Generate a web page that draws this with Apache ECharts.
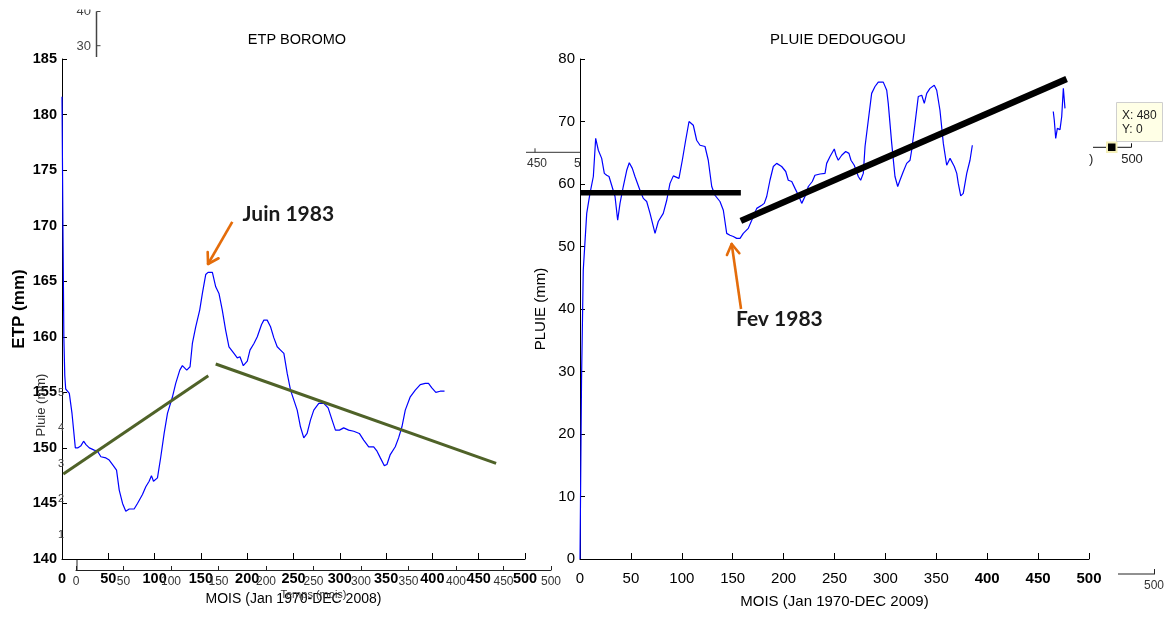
<!DOCTYPE html>
<html>
<head>
<meta charset="utf-8">
<script src="https://cdn.jsdelivr.net/npm/echarts@6/dist/echarts.min.js"></script>
<style>
  html, body { margin: 0; padding: 0; background: #fff; }
  #chart { width: 1173px; height: 617px; }
</style>
</head>
<body>
<div id="chart"></div>
<script>
// ---- data -------------------------------------------------------------
// ETP Boromo, smoothed monthly series (month index, mm)
const etpSeries = [
  [0,181.6],[1,170],[2,160],[3,156.5],[4,155.3],[7.9,154.9],[10.8,153.1],[12.2,153.0],[14.4,150.0],[16.9,150.0],
  [20.5,150.2],[23.3,150.6],[25.9,150.3],[29.5,150.0],[34.8,149.8],[38.4,149.7],[42.0,149.2],[47.4,149.1],[51.0,148.9],[54.6,148.5],
  [58.9,148.0],[61.8,146.2],[65.4,145.0],[68.9,144.3],[72.6,144.5],[77.9,144.5],[81.5,145.0],[86.9,145.8],[90.5,146.5],[94.1,147.0],
  [96.6,147.5],[98.8,147.0],[103.1,147.3],[106.7,149.2],[110.3,151.3],[113.9,153.1],[119.3,154.6],[122.8,155.8],[127.2,157.0],[130.0,157.4],
  [134.7,157.0],[138.3,157.3],[140.8,159.4],[144.4,160.9],[148.7,162.4],[151.6,163.9],[155.2,165.6],[157.7,165.8],[162.4,165.8],[166.0,164.5],
  [169.5,163.9],[173.1,162.4],[176.7,160.6],[180.3,159.1],[185.7,158.5],[189.3,158.1],[192.2,158.2],[195.8,157.4],[200.1,157.8],[203.0,158.8],
  [207.3,159.4],[210.9,160.0],[215.5,161.1],[218.0,161.5],[221.6,161.5],[225.2,160.9],[228.8,159.9],[232.4,159.1],[236.0,158.8],[239.6,158.5],
  [243.2,156.7],[246.8,155.2],[250.4,154.3],[254.0,153.4],[257.5,151.9],[261.1,150.9],[264.7,151.3],[268.3,152.5],[271.9,153.4],[277.3,154.0],
  [282.7,154.0],[287.4,153.6],[291.7,152.5],[295.3,151.6],[299.6,151.6],[304.2,151.8],[309.6,151.6],[315.0,151.5],[321.1,151.3],[325.8,150.7],
  [331.2,150.1],[336.6,150.1],[340.2,149.7],[343.8,149.1],[348.1,148.4],[350.9,148.5],[354.5,149.4],[359.9,150.1],[363.5,150.9],[367.1,151.9],
  [370.7,153.4],[376.1,154.6],[381.5,155.2],[386.9,155.7],[392.2,155.8],[395.8,155.8],[399.4,155.4],[403.7,155.0],[408.4,155.1],[413.1,155.1]
];
// ETP trend segments before / after the break
const etpTrendBefore = [[1.4,147.65],[158.0,156.5]];
const etpTrendAfter  = [[166.0,157.55],[468.8,148.6]];

// Pluie Dedougou, smoothed monthly series (month index, mm); '-' marks a gap
const pluieSeries = [
  [0,0],[1.5,28.6],[3.2,46.2],[6.6,55.3],[9.8,58.5],[13.1,61.2],[15.4,67.3],[18.0,65.4],[21.3,64.1],[23.9,61.7],
  [26.2,61.4],[28.5,61.2],[31.1,59.8],[34.4,58.0],[37.0,54.2],[39.3,56.9],[42.5,59.6],[45.9,62.2],[48.4,63.4],[51.4,62.5],
  [54.0,61.2],[58.9,59.0],[62.2,57.7],[65.5,57.2],[68.8,55.3],[73.7,52.1],[76.9,54.0],[81.8,55.3],[85.2,57.4],[88.4,60.1],
  [91.7,61.3],[97.2,60.9],[100.5,63.8],[103.8,67.0],[107.1,70.0],[111.3,69.4],[114.6,67.0],[117.9,66.2],[122.8,66.0],[126.0,63.8],
  [129.4,59.6],[132.6,58.2],[137.5,57.2],[140.8,55.8],[144.1,52.1],[147.3,51.8],[150.6,51.6],[153.9,51.3],[157.2,51.3],[160.4,52.1],
  [165.3,52.9],[168.7,54.2],[173.6,56.1],[178.5,56.6],[181.0,56.9],[183.4,58.0],[186.6,60.6],[189.9,62.8],[193.2,63.3],[198.1,62.8],
  [202.1,62.0],[204.6,60.6],[208.0,60.4],[211.2,59.3],[215.1,58.0],[217.8,56.9],[221.0,58.0],[224.3,59.6],[228.2,60.4],[230.8,61.4],
  [235.8,61.6],[240.7,61.7],[242.3,63.3],[245.6,64.4],[249.8,65.6],[251.5,64.6],[253.7,63.8],[257.1,64.6],[261.0,65.2],[264.2,64.9],
  [266.2,63.8],[269.4,63.0],[273.4,61.2],[275.7,60.6],[278.3,61.7],[280.0,66.0],[283.2,70.2],[286.5,74.5],[289.8,75.6],[293.0,76.3],
  [297.9,76.3],[301.3,75.0],[302.8,72.9],[306.2,66.5],[309.4,61.2],[312.1,59.6],[314.3,60.6],[317.6,62.0],[320.9,63.3],[324.2,63.8],
  [325.8,65.4],[329.1,69.7],[332.3,74.0],[335.7,74.2],[338.2,72.9],[340.6,74.5],[343.8,75.3],[348.0,75.8],[350.4,75.0],[353.6,71.8],
  [356.9,66.5],[360.2,63.0],[363.5,64.1],[367.7,62.8],[370.1,61.7],[371.6,60.1],[374.0,58.1],[376.5,58.5],[379.9,61.7],[383.1,63.8],
  [385.4,66.2],[420,'-'],
  [464.9,71.6],[465.9,70.2],[467.3,67.3],[468.9,68.9],[471.5,68.7],[473.2,70.8],[474.8,75.3],[476.4,72.1]
];
// Pluie trend segments before / after the break
const pluieTrendBefore = [[0,58.6],[158,58.6]];
const pluieTrendAfter  = [[158,54.1],[478,76.8]];

// axis ranges: [min, max, step]
const monthRange = [0, 500, 50];
const etpRange   = [140, 185, 5];
const pluieRange = [0, 80, 10];
const otherRange = [0, 5, 1];

// break annotations: label anchor, arrow tail and arrow tip (data units)
const breakNotes = [
  { grid: 0, text: 'Juin 1983', label: [195, 171.0], tail: [183.9, 170.35], tip: [157.7, 166.55] },
  { grid: 1, text: 'Fev 1983',  label: [153.2, 38.4], tail: [158.2, 40.0],  tip: [149.0, 50.4] }
];

// ---- styling ----------------------------------------------------------
const SANS = "'Liberation Sans', Arial, sans-serif";
const ORANGE = '#e46c0a';

function baseAxis(extra) {
  return Object.assign({
    type: 'value',
    axisLine: { show: true, lineStyle: { color: '#000', width: 1 } },
    axisTick: { show: true, inside: true, length: 5, lineStyle: { color: '#000', width: 1 } },
    splitLine: { show: false },
    axisLabel: { color: '#000', fontFamily: SANS, fontSize: 14 }
  }, extra);
}

const chart = echarts.init(document.getElementById('chart'), null, { renderer: 'canvas' });

const option = {
  animation: false,
  backgroundColor: '#fff',
  title: [
    { text: 'ETP BOROMO', left: 292, top: 27, textAlign: 'center',
      textStyle: { fontFamily: SANS, fontWeight: 'normal', fontSize: 14.5, color: '#000' } },
    { text: 'PLUIE DEDOUGOU', left: 833, top: 27, textAlign: 'center',
      textStyle: { fontFamily: SANS, fontWeight: 'normal', fontSize: 15, color: '#000' } }
  ],
  grid: [
    { left: 62, top: 59, width: 463, height: 500 },
    { left: 580, top: 59, width: 509, height: 500 },
    { left: 76, top: 393, width: 475, height: 177 }
  ],
  xAxis: [
    baseAxis({
      gridIndex: 0, min: monthRange[0], max: monthRange[1], interval: monthRange[2],
      name: 'MOIS (Jan 1970-DEC 2008)', nameLocation: 'middle', nameGap: 33,
      nameTextStyle: { fontFamily: SANS, fontSize: 14, color: '#000' },
      axisTick: { show: true, inside: true, length: 6, lineStyle: { color: '#000' } },
      axisLabel: { color: '#000', fontFamily: SANS, fontWeight: 'bold', fontSize: 14.5, margin: 12 }
    }),
    baseAxis({
      gridIndex: 1, min: monthRange[0], max: monthRange[1], interval: monthRange[2],
      name: 'MOIS (Jan 1970-DEC 2009)', nameLocation: 'middle', nameGap: 35,
      nameTextStyle: { fontFamily: SANS, fontSize: 15, color: '#000' },
      axisTick: { show: true, inside: true, length: 6, lineStyle: { color: '#000' } },
      axisLabel: {
        color: '#000', fontFamily: SANS, fontSize: 15, margin: 12,
        formatter: v => (v >= 400 ? '{b|' + v + '}' : '' + v),
        rich: { b: { fontFamily: SANS, fontWeight: 'bold', fontSize: 15, color: '#000' } }
      }
    }),
    baseAxis({
      gridIndex: 2, min: monthRange[0], max: monthRange[1], interval: monthRange[2], z: 0,
      name: 'Temps (mois)', nameLocation: 'middle', nameGap: 19,
      nameTextStyle: { fontFamily: SANS, fontSize: 11, color: '#333' },
      axisLine: { show: true, lineStyle: { color: '#222', width: 1 } },
      axisTick: { show: true, inside: true, length: 4, lineStyle: { color: '#222' } },
      axisLabel: { color: '#333', fontFamily: SANS, fontSize: 12, margin: 6 }
    })
  ],
  yAxis: [
    baseAxis({
      gridIndex: 0, min: etpRange[0], max: etpRange[1], interval: etpRange[2],
      name: 'ETP (mm)', nameLocation: 'middle', nameGap: 34,
      nameTextStyle: { fontFamily: SANS, fontWeight: 'bold', fontSize: 17, color: '#000' },
      axisLabel: { color: '#000', fontFamily: SANS, fontWeight: 'bold', fontSize: 14.5, margin: 5 }
    }),
    baseAxis({
      gridIndex: 1, min: pluieRange[0], max: pluieRange[1], interval: pluieRange[2],
      name: 'PLUIE (mm)', nameLocation: 'middle', nameGap: 32,
      nameTextStyle: { fontFamily: SANS, fontSize: 15, color: '#000' },
      axisLabel: { color: '#000', fontFamily: SANS, fontSize: 15, margin: 5 }
    }),
    baseAxis({
      gridIndex: 2, min: otherRange[0], max: otherRange[1], interval: otherRange[2], z: 0,
      axisLine: { show: false }, axisTick: { show: false },
      axisLabel: { color: '#444', fontFamily: SANS, fontSize: 11, margin: 12,
        formatter: v => (v === 0 ? '' : '' + v) }
    })
  ],
  series: [
    { type: 'line', xAxisIndex: 0, yAxisIndex: 0, data: etpSeries, showSymbol: false, symbol: 'none',
      lineStyle: { color: '#0000ff', width: 1.2 }, z: 3 },
    { type: 'line', xAxisIndex: 0, yAxisIndex: 0, data: etpTrendBefore, symbol: 'none',
      lineStyle: { color: '#4f6228', width: 3 }, z: 4 },
    { type: 'line', xAxisIndex: 0, yAxisIndex: 0, data: etpTrendAfter, symbol: 'none',
      lineStyle: { color: '#4f6228', width: 3 }, z: 4 },
    { type: 'line', xAxisIndex: 1, yAxisIndex: 1, data: pluieSeries, showSymbol: false, symbol: 'none',
      connectNulls: false, lineStyle: { color: '#0000ff', width: 1.2 }, z: 3 },
    { type: 'line', xAxisIndex: 1, yAxisIndex: 1, data: pluieTrendBefore, symbol: 'none',
      lineStyle: { color: '#000', width: 5.5 }, z: 4 },
    { type: 'line', xAxisIndex: 1, yAxisIndex: 1, data: pluieTrendAfter, symbol: 'none',
      lineStyle: { color: '#000', width: 6.5 }, z: 4 }
  ]
};

chart.setOption(option);

// ---- decorations: leftover axis fragments, data cursor, break notes -----
const deco = [];
const grey = '#444';
function line(x1, y1, x2, y2, color, w, z) {
  deco.push({ type: 'line', shape: { x1, y1, x2, y2 }, style: { stroke: color || grey, lineWidth: w || 1 }, z: z || 1, silent: true });
}
function text(x, y, s, font, color, align, vAlign, rot, z) {
  deco.push({ type: 'text', x, y, rotation: rot || 0, z: z || 1, silent: true,
    style: { text: s, font, fill: color || '#333', align: align || 'left', verticalAlign: vAlign || 'middle' } });
}

// small vertical axis at the top left (30 / 40)
line(96.5, 11.5, 96.5, 57, grey, 1.5);
line(96.5, 11.5, 100.5, 11.5, grey, 1);
line(96.5, 45.7, 100.5, 45.7, grey, 1);
text(91, 11, '40', '13px ' + SANS, grey, 'right');
text(91, 46.5, '30', '13px ' + SANS, grey, 'right');
deco.push({ type: 'rect', shape: { x: 60, y: 0, width: 50, height: 9.5 }, style: { fill: '#fff' }, z: 2, silent: true });

// rotated "Pluie (mm)" under the ETP axis
text(41, 405, 'Pluie (mm)', '13px ' + SANS, '#333', 'center', 'middle', Math.PI / 2);
// stub of the underlying vertical axis below the ETP x axis
line(77, 560, 77, 570.5, '#222', 1);

// horizontal fragment left of the rain axis (450 / 5)
line(526, 152.3, 580, 152.3, '#333', 1);
line(535, 148.3, 535, 152.3, '#333', 1);
text(537, 164, '450', '12px ' + SANS, '#333', 'center');
text(574, 164, '5', '12px ' + SANS, '#333', 'left');

// fragment with data cursor on the right
line(1093, 147.3, 1131.5, 147.3, '#111', 1);
line(1131.5, 143.3, 1131.5, 147.3, '#111', 1);
text(1089, 159, ')', '13px ' + SANS, '#222', 'left');
text(1132, 159, '500', '13px ' + SANS, '#222', 'center');
deco.push({ type: 'rect', shape: { x: 1107, y: 142.5, width: 9.5, height: 9.5 },
  style: { fill: '#000', stroke: '#f4efb8', lineWidth: 2 }, z: 5, silent: true });
deco.push({ type: 'rect', shape: { x: 1116.5, y: 102.5, width: 46, height: 39 },
  style: { fill: '#ffffe6', stroke: '#cfcfcf', lineWidth: 1 }, z: 5, silent: true });
text(1122, 116, 'X: 480', '12px ' + SANS, '#222', 'left', 'middle', 0, 6);
text(1122, 130, 'Y: 0', '12px ' + SANS, '#222', 'left', 'middle', 0, 6);

// fragment at the bottom right
line(1118, 574, 1155, 574, '#222', 1);
line(1154.5, 569, 1154.5, 574, '#222', 1);
text(1154, 586, '500', '12px ' + SANS, '#333', 'center');

// break annotations, placed through the axes' own scales
breakNotes.forEach(n => {
  const p = chart.convertToPixel({ gridIndex: n.grid }, n.label);
  const a = chart.convertToPixel({ gridIndex: n.grid }, n.tail);
  const b = chart.convertToPixel({ gridIndex: n.grid }, n.tip);
  text(p[0], p[1], n.text, 'bold 21px Lato, ' + SANS, '#1a1a1a', 'left', 'middle', 0, 10);
  line(a[0], a[1], b[0], b[1], ORANGE, 2.6, 10);
  const ang = Math.atan2(a[1] - b[1], a[0] - b[0]);
  const L = 12, spread = 0.55;
  [ang - spread, ang + spread].forEach(t => {
    deco.push({ type: 'line', z: 10, silent: true,
      shape: { x1: b[0], y1: b[1], x2: b[0] + L * Math.cos(t), y2: b[1] + L * Math.sin(t) },
      style: { stroke: ORANGE, lineWidth: 2.6, lineCap: 'round' } });
  });
});

chart.setOption({ graphic: { elements: deco } });
</script>
</body>
</html>
